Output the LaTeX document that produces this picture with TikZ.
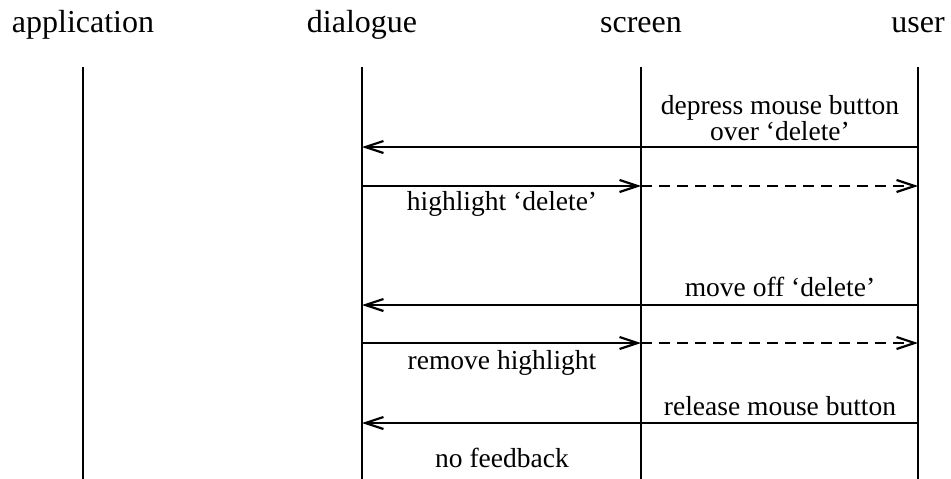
\documentclass[tikz,border=0pt]{standalone}
\usepackage{fontspec}
\setmainfont{Liberation Serif}
\usetikzlibrary{arrows.meta}
\begin{document}
\begin{tikzpicture}[x=1pt,y=-1pt,
  lifeline/.style={line width=1.5pt},
  head/.style={font=\fontsize{32}{36}\selectfont, anchor=base, inner sep=0pt},
  lbl/.style={font=\fontsize{27.5}{23.5}\selectfont, anchor=base, inner sep=0pt, align=center},
  msg/.style={line width=2.2pt, -{Straight Barb[length=18pt,width=12pt,line width=2.2pt]}},
  dmsg/.style={msg, dash pattern=on 11pt off 7pt}]
\useasboundingbox (0,0) rectangle (951,479);
% headers
\node[head] (happ) at (83,32) {application};
\node[head] (hdia) at (362,32) {dialogue};
\node[head] (hscr) at (641,32) {screen};
\node[head] (husr) at (918,32) {user};
% lifeline ends
\coordinate (at) at (83,67);  \coordinate (ab) at (83,479);
\coordinate (dt) at (362,67); \coordinate (db) at (362,479);
\coordinate (st) at (641,67); \coordinate (sb) at (641,479);
\coordinate (ut) at (918,67); \coordinate (ub) at (918,479);
\draw[lifeline] (at) -- (ab);
\draw[lifeline] (dt) -- (db);
\draw[lifeline] (st) -- (sb);
\draw[lifeline] (ut) -- (ub);
% message points
\foreach \n/\y in {1/147,2/186,3/305,4/343,5/423}{
  \coordinate (d\n) at (362,\y);
  \coordinate (s\n) at (641,\y);
  \coordinate (u\n) at (918,\y);
}
% messages
\draw[msg] (u1) -- (d1);
\draw[msg] (d2) -- (s2);
\draw[dmsg] (s2) -- (u2);
\draw[msg] (u3) -- (d3);
\draw[msg] (d4) -- (s4);
\draw[dmsg] (s4) -- (u4);
\draw[msg] (u5) -- (d5);
% labels
\node[lbl] (l1) at (780,140) {depress mouse button\\over `delete'};
\node[lbl] (l2) at (502,210) {highlight `delete'};
\node[lbl] (l3) at (780,296) {move off `delete'};
\node[lbl] (l4) at (502,369) {remove highlight};
\node[lbl] (l5) at (780,415) {release mouse button};
\node[lbl] (l6) at (502,467) {no feedback};
\end{tikzpicture}
\end{document}
